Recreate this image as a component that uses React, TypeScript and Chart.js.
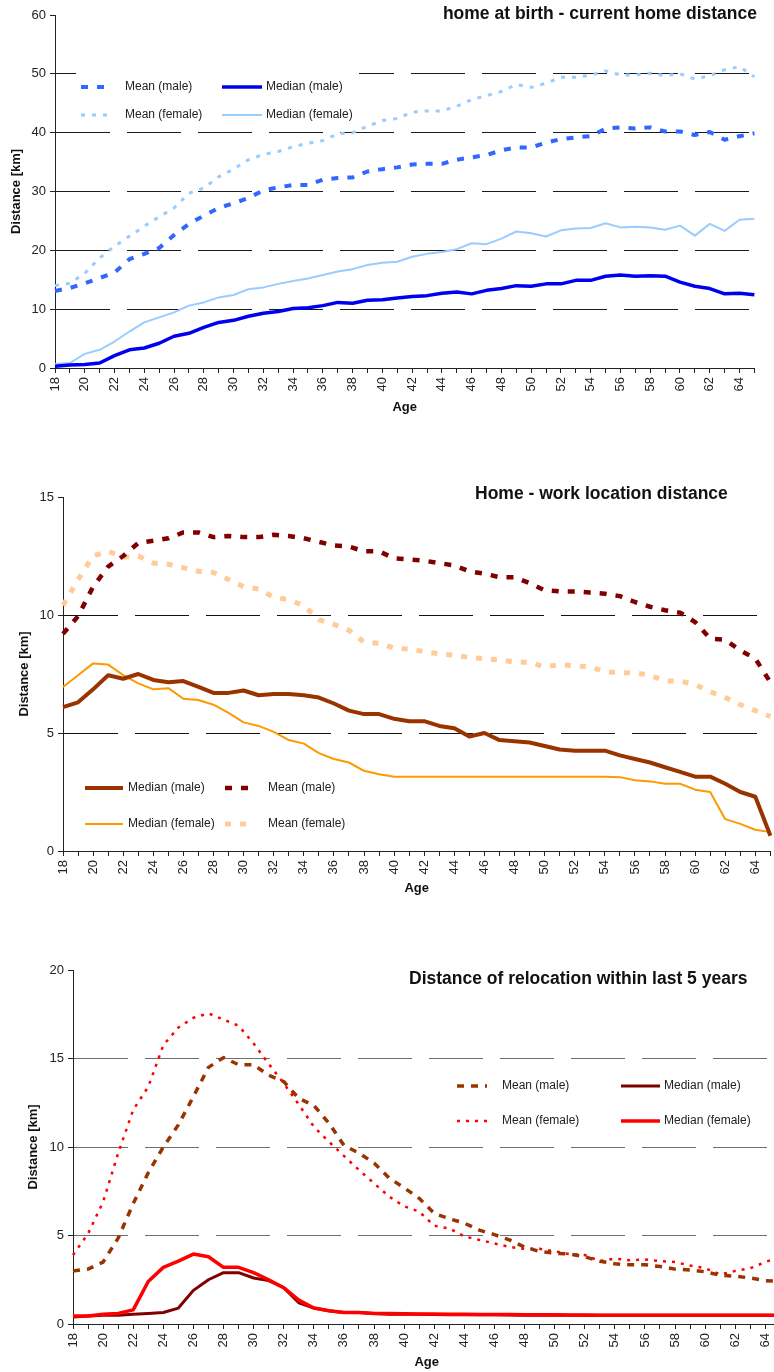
import React, { useEffect, useRef } from "react";
import { Chart, registerables } from "chart.js";

Chart.register(...registerables);

const FONT = '"Liberation Sans", Arial, Helvetica, sans-serif';

// Ages (x categories)
const ages = [
  18, 19, 20, 21, 22, 23, 24, 25, 26, 27, 28, 29, 30, 31, 32, 33, 34, 35, 36, 37, 38, 39, 40, 41,
  42, 43, 44, 45, 46, 47, 48, 49, 50, 51, 52, 53, 54, 55, 56, 57, 58, 59, 60, 61, 62, 63, 64, 65,
];

// Panel 1: home at birth - current home distance [km]
const birthMeanMale = [
  13.1, 13.6, 14.4, 15.3, 16.2, 18.5, 19.4, 20.4, 22.6, 24.5,
  25.9, 27.2, 28.0, 28.9, 30.2, 30.7, 31.1, 31.1, 32.0, 32.3,
  32.4, 33.4, 33.8, 34.1, 34.6, 34.7, 34.7, 35.4, 35.8, 36.2,
  37.0, 37.5, 37.5, 38.3, 38.9, 39.2, 39.4, 40.7, 40.9, 40.7,
  40.9, 40.2, 40.2, 39.6, 40.1, 38.8, 39.4, 39.9,
];
const birthMedianMale = [
  0.3, 0.5, 0.6, 0.85, 2.1, 3.1, 3.4, 4.2, 5.4, 5.9,
  6.9, 7.75, 8.1, 8.8, 9.3, 9.6, 10.1, 10.25, 10.6, 11.15,
  11.0, 11.5, 11.6, 11.9, 12.15, 12.3, 12.7, 12.9, 12.6, 13.2,
  13.5, 14.0, 13.9, 14.3, 14.3, 14.9, 14.9, 15.6, 15.8, 15.6,
  15.7, 15.6, 14.6, 13.9, 13.5, 12.6, 12.7, 12.45,
];
const birthMeanFemale = [
  14.0, 14.4, 16.1, 18.7, 20.7, 22.4, 24.1, 25.7, 27.2, 29.7,
  30.6, 32.5, 33.8, 35.4, 36.3, 36.8, 37.6, 38.2, 38.65, 39.8,
  40.0, 41.1, 42.05, 42.4, 43.5, 43.7, 43.7, 44.5, 45.6, 46.3,
  47.0, 48.2, 47.7, 48.4, 49.4, 49.4, 49.8, 50.5, 49.8, 49.8,
  50.1, 49.7, 50.0, 49.1, 49.7, 50.7, 51.2, 49.5,
];
const birthMedianFemale = [
  0.7, 0.85, 2.4, 3.1, 4.5, 6.2, 7.75, 8.6, 9.45, 10.6,
  11.15, 12.0, 12.4, 13.4, 13.7, 14.3, 14.8, 15.2, 15.8, 16.4,
  16.8, 17.5, 17.9, 18.05, 18.9, 19.4, 19.7, 20.2, 21.2, 21.05,
  22.0, 23.2, 22.9, 22.35, 23.4, 23.7, 23.8, 24.6, 23.9, 24.0,
  23.9, 23.5, 24.2, 22.5, 24.5, 23.3, 25.2, 25.35,
];

// Panel 2: Home - work location distance [km]
const workMedianMale = [
  6.1, 6.3, 6.85, 7.45, 7.3, 7.5, 7.25, 7.15, 7.2, 6.95,
  6.7, 6.7, 6.8, 6.6, 6.65, 6.65, 6.6, 6.5, 6.25, 5.95,
  5.8, 5.8, 5.6, 5.5, 5.5, 5.3, 5.2, 4.85, 5.0, 4.7,
  4.65, 4.6, 4.45, 4.3, 4.25, 4.25, 4.25, 4.05, 3.9, 3.75,
  3.55, 3.35, 3.15, 3.15, 2.85, 2.5, 2.3, 0.65,
];
const workMeanMale = [
  9.2, 9.95, 11.2, 12.05, 12.5, 13.05, 13.15, 13.25, 13.5, 13.5,
  13.3, 13.35, 13.3, 13.3, 13.4, 13.35, 13.25, 13.1, 12.95, 12.9,
  12.7, 12.7, 12.4, 12.35, 12.3, 12.2, 12.1, 11.85, 11.75, 11.6,
  11.6, 11.35, 11.05, 11.0, 11.0, 10.95, 10.9, 10.8, 10.55, 10.35,
  10.2, 10.1, 9.7, 9.0, 8.95, 8.5, 8.15, 7.15,
];
const workMedianFemale = [
  6.95, 7.45, 7.95, 7.9, 7.45, 7.1, 6.85, 6.9, 6.45, 6.4,
  6.2, 5.85, 5.45, 5.3, 5.05, 4.7, 4.55, 4.15, 3.9, 3.75,
  3.4, 3.25, 3.15, 3.15, 3.15, 3.15, 3.15, 3.15, 3.15, 3.15,
  3.15, 3.15, 3.15, 3.15, 3.15, 3.15, 3.15, 3.13, 3.0, 2.95,
  2.85, 2.85, 2.6, 2.5, 1.35, 1.15, 0.9, 0.8,
];
const workMeanFemale = [
  10.4, 11.5, 12.5, 12.7, 12.45, 12.5, 12.2, 12.15, 12.0, 11.85,
  11.8, 11.5, 11.2, 11.1, 10.75, 10.65, 10.4, 9.8, 9.6, 9.35,
  8.85, 8.8, 8.6, 8.55, 8.45, 8.35, 8.3, 8.2, 8.15, 8.1,
  8.0, 8.0, 7.8, 7.9, 7.85, 7.8, 7.6, 7.55, 7.55, 7.45,
  7.2, 7.2, 7.05, 6.75, 6.5, 6.2, 5.95, 5.7,
];

// Panel 3: Distance of relocation within last 5 years [km]
const relocMeanMale = [
  3.0, 3.1, 3.5, 4.85, 6.8, 8.55, 10.0, 11.25, 12.85, 14.5,
  15.05, 14.65, 14.65, 14.05, 13.7, 12.75, 12.35, 11.35, 10.1, 9.65,
  9.1, 8.25, 7.7, 7.1, 6.25, 5.95, 5.7, 5.3, 5.05, 4.75,
  4.35, 4.1, 4.0, 3.95, 3.8, 3.55, 3.4, 3.35, 3.35, 3.25,
  3.1, 3.05, 2.95, 2.75, 2.7, 2.6, 2.45, 2.4,
];
const relocMedianMale = [
  0.4, 0.45, 0.5, 0.5, 0.55, 0.6, 0.65, 0.9, 1.9, 2.5,
  2.9, 2.9, 2.6, 2.45, 2.05, 1.2, 0.9, 0.75, 0.65, 0.65,
  0.6, 0.55, 0.55, 0.55, 0.53, 0.52, 0.52, 0.52, 0.52, 0.51,
  0.5, 0.5, 0.5, 0.5, 0.5, 0.5, 0.5, 0.5, 0.5, 0.5,
  0.5, 0.5, 0.5, 0.5, 0.5, 0.5, 0.5, 0.5,
];
const relocMeanFemale = [
  3.9, 5.1, 6.9, 9.65, 12.1, 13.4, 15.75, 16.75, 17.3, 17.55,
  17.2, 16.85, 15.85, 14.7, 13.6, 12.4, 11.15, 10.3, 9.5, 8.7,
  7.95, 7.2, 6.65, 6.35, 5.55, 5.4, 4.95, 4.75, 4.55, 4.35,
  4.25, 4.25, 4.1, 3.95, 3.9, 3.55, 3.7, 3.6, 3.65, 3.55,
  3.5, 3.3, 3.15, 2.8, 3.0, 3.15, 3.5, 3.8,
];
const relocMedianFemale = [
  0.45, 0.45, 0.55, 0.6, 0.8, 2.4, 3.2, 3.55, 3.95, 3.8,
  3.2, 3.2, 2.9, 2.5, 2.05, 1.35, 0.9, 0.75, 0.65, 0.65,
  0.6, 0.6, 0.58, 0.57, 0.56, 0.55, 0.55, 0.54, 0.54, 0.53,
  0.52, 0.52, 0.52, 0.51, 0.51, 0.5, 0.5, 0.5, 0.5, 0.5,
  0.5, 0.5, 0.5, 0.5, 0.5, 0.5, 0.5, 0.5,
];

type Series = { label: string; data: number[]; color: string; width: number; dash: number[] };
type LegendItem = { label: string; x1: number; x2: number; tx: number; y: number };
type PanelCfg = {
  top: number;
  w: number;
  h: number;
  pad: { top: number; right: number; bottom: number; left: number };
  yWidth: number;
  xHeight: number;
  yMax: number;
  yStep: number;
  gridColor: string;
  yTitlePad: number;
  series: Series[];
  legend: LegendItem[]; // same order as series
  legendBox?: [number, number, number, number];
  title: { text: string; x: number; y: number; align: CanvasTextAlign };
};

const panels: PanelCfg[] = [
  {
    top: 0,
    w: 774,
    h: 415,
    pad: { top: 15, right: 9, bottom: 0, left: 0 },
    yWidth: 55,
    xHeight: 47,
    yMax: 60,
    yStep: 10,
    gridColor: "#1a1a1a",
    yTitlePad: 9,
    series: [
      { label: "Mean (male)", data: birthMeanMale, color: "#3366FF", width: 4, dash: [7, 9] },
      { label: "Median (male)", data: birthMedianMale, color: "#0000EE", width: 3.5, dash: [] },
      { label: "Mean (female)", data: birthMeanFemale, color: "#99CCFF", width: 3, dash: [4, 7] },
      { label: "Median (female)", data: birthMedianFemale, color: "#99CCFF", width: 2, dash: [] },
    ],
    legend: [
      { label: "Mean (male)", x1: 81, x2: 113, tx: 125, y: 87 },
      { label: "Median (male)", x1: 222, x2: 262, tx: 266, y: 87 },
      { label: "Mean (female)", x1: 81, x2: 113, tx: 125, y: 115 },
      { label: "Median (female)", x1: 222, x2: 262, tx: 266, y: 115 },
    ],
    legendBox: [76, 66, 283, 62],
    title: { text: "home at birth - current home distance", x: 757, y: 14, align: "right" },
  },
  {
    top: 470,
    w: 790,
    h: 426,
    pad: { top: 27, right: 17, bottom: 0, left: 0 },
    yWidth: 63,
    xHeight: 45,
    yMax: 15,
    yStep: 5,
    gridColor: "#111111",
    yTitlePad: 17,
    series: [
      { label: "Median (male)", data: workMedianMale, color: "#993300", width: 4, dash: [] },
      { label: "Mean (male)", data: workMeanMale, color: "#800000", width: 4.5, dash: [7, 9] },
      { label: "Median (female)", data: workMedianFemale, color: "#FF9900", width: 2, dash: [] },
      { label: "Mean (female)", data: workMeanFemale, color: "#FFCC99", width: 5, dash: [6, 9] },
    ],
    legend: [
      { label: "Median (male)", x1: 85, x2: 123, tx: 128, y: 318 },
      { label: "Mean (male)", x1: 225, x2: 253, tx: 268, y: 318 },
      { label: "Median (female)", x1: 85, x2: 123, tx: 128, y: 354 },
      { label: "Mean (female)", x1: 225, x2: 253, tx: 268, y: 354 },
    ],
    title: { text: "Home - work location distance", x: 475, y: 24, align: "left" },
  },
  {
    top: 945,
    w: 800,
    h: 425,
    pad: { top: 25, right: 17, bottom: 0, left: 0 },
    yWidth: 73,
    xHeight: 46,
    yMax: 20,
    yStep: 5,
    gridColor: "#6e6e6e",
    yTitlePad: 26,
    series: [
      { label: "Median (female)", data: relocMedianFemale, color: "#FF0000", width: 3.5, dash: [] },
      { label: "Median (male)", data: relocMedianMale, color: "#800000", width: 3, dash: [] },
      { label: "Mean (male)", data: relocMeanMale, color: "#993300", width: 3.5, dash: [7, 7] },
      { label: "Mean (female)", data: relocMeanFemale, color: "#FF0000", width: 2.5, dash: [3, 6] },
    ],
    legend: [
      { label: "Median (female)", x1: 621, x2: 660, tx: 664, y: 176 },
      { label: "Median (male)", x1: 621, x2: 660, tx: 664, y: 141 },
      { label: "Mean (male)", x1: 457, x2: 487, tx: 502, y: 141 },
      { label: "Mean (female)", x1: 457, x2: 490, tx: 502, y: 176 },
    ],
    title: { text: "Distance of relocation within last 5 years", x: 409, y: 34, align: "left" },
  },
];

function Panel({ cfg }: { cfg: PanelCfg }) {
  const ref = useRef<HTMLCanvasElement | null>(null);

  useEffect(() => {
    const canvas = ref.current;
    if (!canvas) return;

    const overlay = {
      id: "overlay" + cfg.top,
      afterDraw(chart: any) {
        const ctx: CanvasRenderingContext2D = chart.ctx;
        ctx.save();
        if (cfg.legendBox) {
          ctx.fillStyle = "#ffffff";
          const [bx, by, bw, bh] = cfg.legendBox;
          ctx.fillRect(bx, by, bw, bh);
        }
        cfg.legend.forEach((it, i) => {
          const s = cfg.series[i];
          ctx.beginPath();
          ctx.strokeStyle = s.color;
          ctx.lineWidth = s.width;
          ctx.lineCap = "butt";
          ctx.setLineDash(s.dash);
          ctx.moveTo(it.x1, it.y);
          ctx.lineTo(it.x2, it.y);
          ctx.stroke();
          ctx.setLineDash([]);
          ctx.fillStyle = "#222";
          ctx.font = `12px ${FONT}`;
          ctx.textAlign = "left";
          ctx.textBaseline = "middle";
          ctx.fillText(it.label, it.tx, it.y);
        });
        ctx.font = `bold 17.5px ${FONT}`;
        ctx.fillStyle = "#111";
        ctx.textAlign = cfg.title.align;
        ctx.textBaseline = "middle";
        ctx.fillText(cfg.title.text, cfg.title.x, cfg.title.y);
        ctx.restore();
      },
    };

    const chart = new Chart(canvas, {
      type: "line",
      data: {
        labels: ages.map(String),
        datasets: cfg.series.map((s) => ({
          label: s.label,
          data: s.data,
          borderColor: s.color,
          backgroundColor: s.color,
          borderWidth: s.width,
          borderDash: s.dash,
          borderCapStyle: "butt" as const,
          borderJoinStyle: "round" as const,
          pointRadius: 0,
          pointHoverRadius: 0,
          tension: 0,
          fill: false,
        })),
      },
      options: {
        responsive: false,
        animation: false,
        events: [],
        layout: { padding: cfg.pad },
        plugins: {
          legend: { display: false },
          tooltip: { enabled: false },
          title: { display: false },
        },
        scales: {
          x: {
            type: "category",
            offset: false,
            grid: {
              display: true,
              drawOnChartArea: false,
              drawTicks: true,
              tickLength: 5,
              color: "#222",
              tickColor: "#222",
            },
            border: { display: true, color: "#222", width: 1 },
            ticks: {
              autoSkip: false,
              minRotation: 90,
              maxRotation: 90,
              padding: 4,
              color: "#222",
              font: { family: FONT, size: 13 },
              callback: (_v: any, i: number) => (ages[i] % 2 === 0 ? String(ages[i]) : ""),
            },
            title: {
              display: true,
              text: "Age",
              color: "#111",
              font: { family: FONT, size: 13, weight: "bold" },
              padding: { top: 0, bottom: 0 },
            },
            afterFit: (s: any) => {
              s.height = cfg.xHeight;
            },
          },
          y: {
            min: 0,
            max: cfg.yMax,
            grid: {
              display: true,
              drawOnChartArea: true,
              drawTicks: true,
              tickLength: 5,
              lineWidth: 1,
              tickColor: "#222",
              color: (c: any) =>
                c.tick && (c.tick.value === 0 || c.tick.value === cfg.yMax) ? "rgba(0,0,0,0)" : cfg.gridColor,
            },
            border: { display: true, color: "#222", width: 1, dash: [54, 17] },
            ticks: {
              stepSize: cfg.yStep,
              padding: 4,
              color: "#222",
              font: { family: FONT, size: 13 },
            },
            title: {
              display: true,
              text: "Distance [km]",
              color: "#111",
              font: { family: FONT, size: 13, weight: "bold" },
              padding: { top: cfg.yTitlePad, bottom: 0 },
            },
            afterFit: (s: any) => {
              s.width = cfg.yWidth;
            },
          },
        },
      },
      plugins: [overlay],
    } as any);

    return () => chart.destroy();
  }, [cfg]);

  return (
    <div style={{ position: "absolute", left: 0, top: cfg.top, width: cfg.w, height: cfg.h }}>
      <canvas
        ref={ref}
        width={cfg.w}
        height={cfg.h}
        style={{ display: "block", width: cfg.w, height: cfg.h }}
      />
    </div>
  );
}

export default function App() {
  return (
    <div
      style={{
        position: "absolute",
        left: 0,
        top: 0,
        width: 774,
        height: 1372,
        overflow: "hidden",
        background: "#ffffff",
      }}
    >
      {panels.map((p) => (
        <Panel key={p.top} cfg={p} />
      ))}
    </div>
  );
}
